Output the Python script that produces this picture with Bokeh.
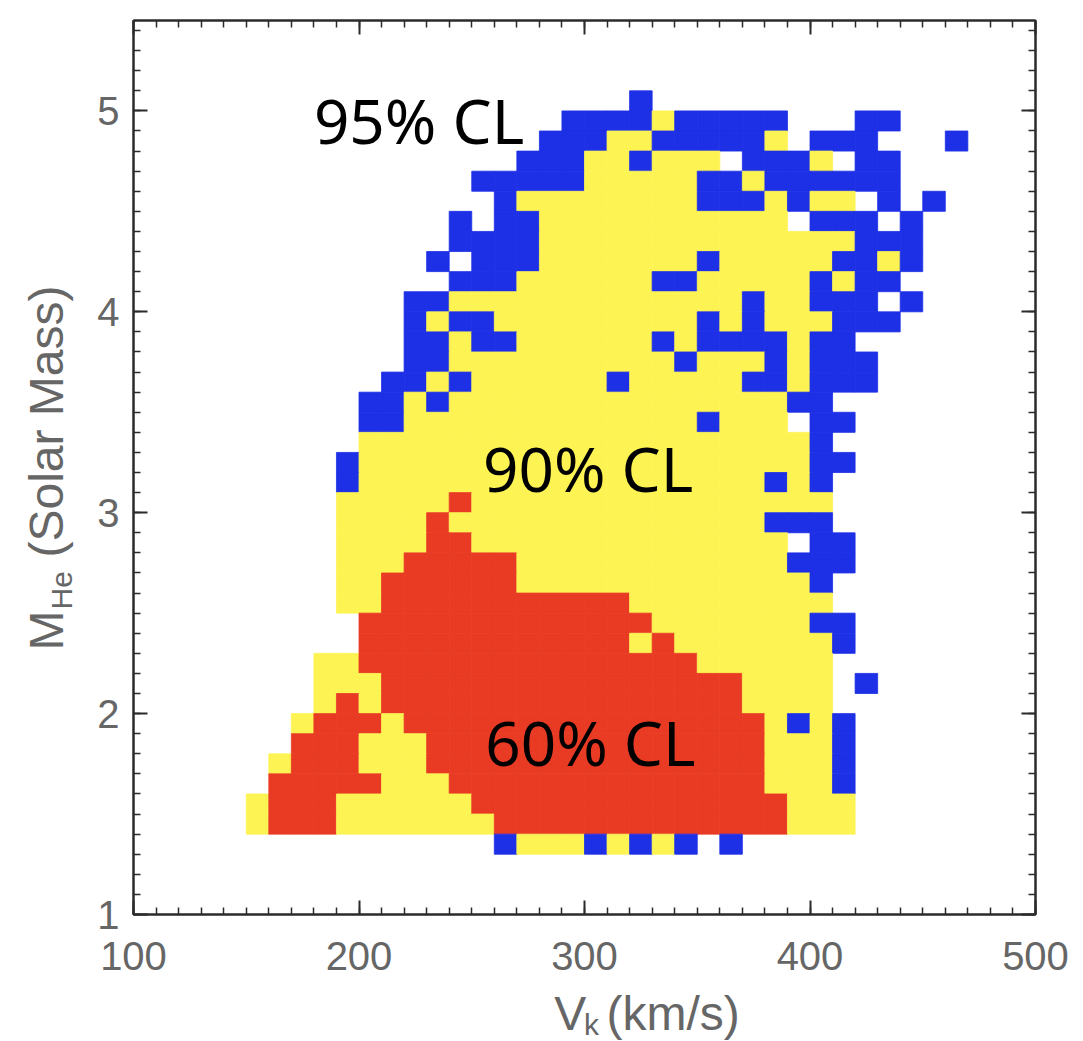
import math
from bokeh.plotting import figure
from bokeh.models import Range1d, SingleIntervalTicker, LinearAxis, ColumnDataSource
from bokeh.layouts import row, column
from bokeh.embed import file_html
from bokeh.resources import INLINE
from bokeh.core.properties import value

# Confidence-level map on a (V_k, M_He) grid: cells of 10 km/s by 0.1 Msun.
v_start, v_step = 150, 10
m_start, m_step = 1.3, 0.1

# One string per M_He row, top row (5.0-5.1) first; one character per V_k column
# starting at 150 km/s.  R = 60% CL, Y = 90% CL, B = 95% CL, . = outside.
cl_rows = [
    ".........." ".......B.." ".........." "..",
    ".........." "....BBBBYB" "BBBB...BB." "..",
    ".........." "...BBBYYBB" "BBBY.BBB.." ".B",
    ".........." "..BBBYYBYY" "Y.BBBY.BB." "..",
    ".........." "BBBBBYYYYY" "BBYBBBBBB." "..",
    ".........." ".BYYYYYYYY" "BBBYBYY.B." "B.",
    ".........B" ".BBYYYYYYY" "YYYY.BBB.B" "..",
    ".........B" "BBBYYYYYYY" "YYYYYYYBBB" "..",
    "........B." "BBBYYYYYYY" "BYYYYYBBYB" "..",
    ".........B" "BBYYYYYYBB" "YYYYYBYBB." "..",
    ".......BBY" "YYYYYYYYYY" "YYBYYBBB.B" "..",
    ".......BYB" "BYYYYYYYYY" "BYBYYYBBB." "..",
    ".......BBY" "BBYYYYYYBY" "BBBBYBB..." "..",
    ".......BBY" "YYYYYYYYYB" "YYYBYBBB.." "..",
    "......BBYB" "YYYYYYBYYY" "YYBBYBBB.." "..",
    ".....BBYBY" "YYYYYYYYYY" "YYYYBB...." "..",
    ".....BBYYY" "YYYYYYYYYY" "BYYY.BB..." "..",
    ".....YYYYY" "YYYYYYYYYY" "YYYYYB...." "..",
    "....BYYYYY" "YYYYYYYYYY" "YYYYYBB..." "..",
    "....BYYYYY" "YYYYYYYYYY" "YYYBYB...." "..",
    "....YYYYYR" "YYYYYYYYYY" "YYYYYY...." "..",
    "....YYYYRY" "YYYYYYYYYY" "YYYBBB...." "..",
    "....YYYYRR" "YYYYYYYYYY" "YYYY.BB..." "..",
    "....YYYRRR" "RRYYYYYYYY" "YYYYBBB..." "..",
    "....YYRRRR" "RRYYYYYYYY" "YYYYYB...." "..",
    "....YYRRRR" "RRRRRRRYYY" "YYYYYY...." "..",
    ".....RRRRR" "RRRRRRRRYY" "YYYYYBB..." "..",
    ".....RRRRR" "RRRRRRRYRY" "YYYYYYB..." "..",
    "...YYRRRRR" "RRRRRRRRRR" "YYYYYY...." "..",
    "...YYYRRRR" "RRRRRRRRRR" "RRYYYY.B.." "..",
    "...YRYRRRR" "RRRRRRRRRR" "RRYYYY...." "..",
    "..YRRRYRRR" "RRRRRRRRRR" "RRRYBYB..." "..",
    "..RRRYYYRR" "RRRRRRRRRR" "RRRYYYB..." "..",
    ".YRRRYYYRR" "RRRRRRRRRR" "RRRYYYB..." "..",
    ".RRRRRYYYR" "RRRRRRRRRR" "RRRYYYB..." "..",
    "YRRRYYYYYY" "RRRRRRRRRR" "RRRRYYY..." "..",
    "YRRRYYYYYY" "YRRRRRRRRR" "RRRRYYY..." "..",
    ".........." ".BYYYBYBYB" ".B........" "..",
]

cl_colors = {"R": "#E93B24", "Y": "#FDF454", "B": "#1D30E6"}

# Region labels: (text, V_k at left edge, M_He at text middle)
region_labels = ["95% CL", "90% CL", "60% CL"]
region_x = [180, 255, 256]
region_y = [4.955, 3.225, 1.86]

x_ticks_major, x_minor = 100, 10
y_ticks_major, y_minor = 1, 10

# Build the cell rectangles
n_rows = len(cl_rows)
left, right, bottom, top, color = [], [], [], [], []
for k, row_str in enumerate(cl_rows):
    j = n_rows - 1 - k
    for i, ch in enumerate(row_str):
        if ch in cl_colors:
            left.append(v_start + v_step * i)
            right.append(v_start + v_step * (i + 1))
            bottom.append(round(m_start + m_step * j, 3))
            top.append(round(m_start + m_step * (j + 1), 3))
            color.append(cl_colors[ch])

cells = ColumnDataSource(dict(left=left, right=right, bottom=bottom, top=top, color=color))

# Page geometry (pixels): frame spans x 133-1035, y 20-914
page_w, page_h = 1083, 1041
ytitle_w = 80
main_h = 986
xtitle_h = page_h - main_h
main_w = page_w - ytitle_w

p = figure(width=main_w, height=main_h, x_range=Range1d(100, 500), y_range=Range1d(1, 5.45),
           output_backend="svg", toolbar_location=None,
           min_border_left=133 - ytitle_w, min_border_right=48, min_border_top=20,
           min_border_bottom=main_h - 914)
p.background_fill_color = "white"
p.border_fill_color = "white"
p.grid.visible = False
p.outline_line_color = "#2b2b2b"
p.outline_line_width = 2

p.quad(left="left", right="right", bottom="bottom", top="top", fill_color="color",
       line_color="color", line_width=0.8, source=cells)

p.text(x=region_x, y=region_y, text=region_labels, text_font=value("Noto Sans"),
       text_font_size="62px", text_color="black", text_align="left",
       text_baseline="middle")

tick_color = "#2b2b2b"
label_color = "#666666"


def style_axis(ax, show_labels, standoff):
    ax.axis_line_color = tick_color
    ax.axis_line_width = 2
    ax.major_tick_line_color = tick_color
    ax.minor_tick_line_color = tick_color
    ax.major_tick_line_width = 2
    ax.minor_tick_line_width = 1.5
    ax.major_tick_in = 14
    ax.major_tick_out = 0
    ax.minor_tick_in = 7
    ax.minor_tick_out = 0
    ax.major_label_standoff = standoff
    ax.major_label_text_font = "Liberation Sans"
    ax.major_label_text_font_size = "40px"
    ax.major_label_text_color = label_color
    if not show_labels:
        ax.major_label_text_font_size = "0px"
        ax.major_label_text_alpha = 0


p.xaxis.ticker = SingleIntervalTicker(interval=x_ticks_major, num_minor_ticks=x_minor)
p.yaxis.ticker = SingleIntervalTicker(interval=y_ticks_major, num_minor_ticks=y_minor)
style_axis(p.xaxis[0], True, 27)
style_axis(p.yaxis[0], True, 14)

top_ax = LinearAxis(ticker=SingleIntervalTicker(interval=x_ticks_major, num_minor_ticks=x_minor))
right_ax = LinearAxis(ticker=SingleIntervalTicker(interval=y_ticks_major, num_minor_ticks=y_minor))
style_axis(top_ax, False, 0)
style_axis(right_ax, False, 0)
p.add_layout(top_ax, "above")
p.add_layout(right_ax, "right")

# Axis titles with subscripts, set in their own strips (coordinates in page pixels,
# anchored on the middle line of each text)
title_font = value("Liberation Sans")
title_px, sub_px = 48, 30
mid = 0.35  # middle line above the baseline, in em


def title_text(fig, x, y, txt, size, angle=0.0):
    fig.text(x=[x], y=[y], text=[txt], angle=angle, text_font=title_font,
             text_font_size=f"{size}px", text_color=label_color, text_align="left",
             text_baseline="middle")


ytitle = figure(width=ytitle_w, height=page_h, x_range=Range1d(0, ytitle_w),
                y_range=Range1d(0, page_h), x_axis_type=None, y_axis_type=None,
                output_backend="svg", toolbar_location=None, min_border=0)
ytitle.grid.visible = False
ytitle.outline_line_color = None
y_base = 63
title_text(ytitle, y_base - mid * title_px, page_h - 650, "M", title_px, math.pi / 2)
title_text(ytitle, y_base + 8 - mid * sub_px, page_h - 609, "He", sub_px, math.pi / 2)
title_text(ytitle, y_base - mid * title_px, page_h - 557, "(Solar Mass)", title_px, math.pi / 2)

xtitle = figure(width=main_w, height=xtitle_h, x_range=Range1d(ytitle_w, page_w),
                y_range=Range1d(main_h, page_h), x_axis_type=None, y_axis_type=None,
                output_backend="svg", toolbar_location=None, min_border=0)
xtitle.grid.visible = False
xtitle.outline_line_color = None
x_base = 1029.5
title_text(xtitle, 548, page_h - (x_base - mid * title_px) + main_h, "V", title_px)
title_text(xtitle, 581, page_h - (x_base + 4.5 - mid * sub_px) + main_h, "k", sub_px)
title_text(xtitle, 606, page_h - (x_base - mid * title_px) + main_h, "(km/s)", title_px)

layout = row(ytitle, column(p, xtitle, spacing=0), spacing=0)

open("out.html", "w").write(file_html(layout, INLINE))
